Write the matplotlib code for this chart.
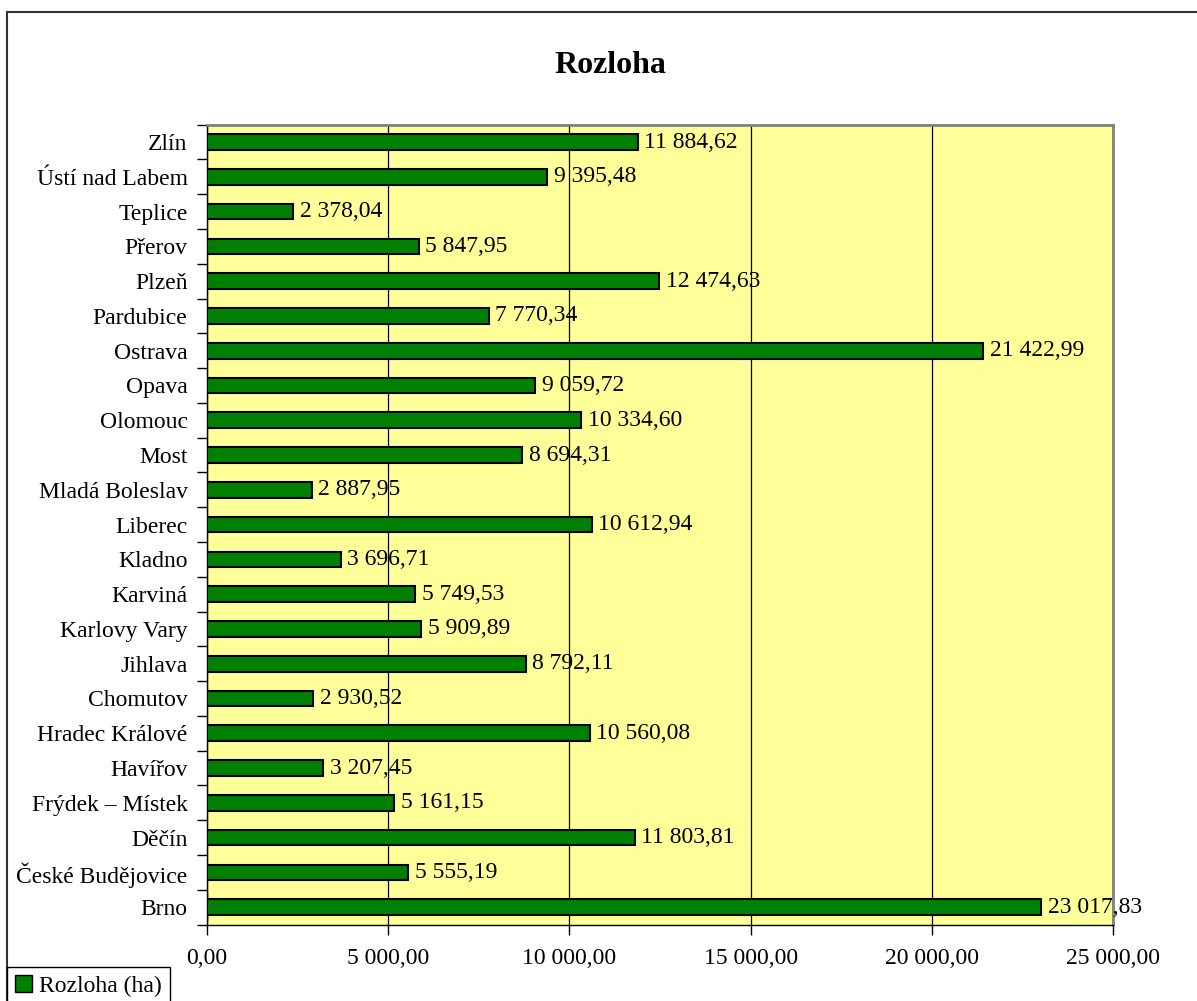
import matplotlib.pyplot as plt
from matplotlib.patches import Rectangle
from matplotlib.ticker import FixedLocator, FuncFormatter
import numpy as np

# data, bottom to top as in the chart
mesta = ['Brno', 'České Budějovice', 'Děčín', 'Frýdek – Místek', 'Havířov',
         'Hradec Králové', 'Chomutov', 'Jihlava', 'Karlovy Vary', 'Karviná',
         'Kladno', 'Liberec', 'Mladá Boleslav', 'Most', 'Olomouc', 'Opava',
         'Ostrava', 'Pardubice', 'Plzeň', 'Přerov', 'Teplice',
         'Ústí nad Labem', 'Zlín']
rozloha = [23017.83, 5555.19, 11803.81, 5161.15, 3207.45, 10560.08,
           2930.52, 8792.11, 5909.89, 5749.53, 3696.71, 10612.94, 2887.95,
           8694.31, 10334.60, 9059.72, 21422.99, 7770.34, 12474.63, 5847.95,
           2378.04, 9395.48, 11884.62]
x_ticks = [0, 5000, 10000, 15000, 20000, 25000]


def cz(v):
    return f'{v:,.2f}'.replace(',', ' ').replace('.', ',')


plt.rcParams.update({'font.family': ['Liberation Serif', 'DejaVu Serif'],
                     'font.size': 17})

fig = plt.figure(figsize=(11.97, 10.01), dpi=100)
ax = fig.add_axes([0.1729, 0.0764, 0.7569, 0.7991])
ax.set_facecolor('#FFFF99')

y = np.arange(len(mesta))
ax.barh(y, rozloha, height=0.45, color='#008000', edgecolor='black',
        linewidth=1.5, zorder=3)
for yi, v in zip(y, rozloha):
    ax.text(v + 180, yi, cz(v), va='center', ha='left', fontsize=17,
            zorder=5, clip_on=False)

ax.set_xlim(0, 25000)
ax.set_ylim(-0.5, len(mesta) - 0.5)
ax.set_xticks(x_ticks)
ax.xaxis.set_major_formatter(FuncFormatter(lambda v, p: cz(v)))
ax.grid(axis='x', color='black', linewidth=0.9, zorder=1)
ax.set_yticks(y)
ax.set_yticklabels(mesta)
ax.yaxis.set_minor_locator(FixedLocator(np.arange(-0.5, len(mesta), 1)))
ax.tick_params(axis='y', which='major', length=0, pad=14)
ax.tick_params(axis='y', which='minor', length=7, width=1, direction='out')
ax.tick_params(axis='x', which='major', length=7, width=1, direction='out',
               pad=10)

for s in ['top', 'right']:
    ax.spines[s].set_color('#808080')
    ax.spines[s].set_linewidth(2)
for s in ['left', 'bottom']:
    ax.spines[s].set_color('black')
    ax.spines[s].set_linewidth(1)

fig.text(0.51, 0.935, 'Rozloha', ha='center', va='center',
         fontsize=23, fontweight='bold')

leg_h = ax.barh([0], [0], color='#008000', edgecolor='black')
leg = fig.legend([leg_h], ['Rozloha (ha)'], loc='lower left',
                 bbox_to_anchor=(0.0058, -0.004), fancybox=False,
                 edgecolor='black', framealpha=1, handlelength=0.7,
                 handleheight=0.7, handletextpad=0.3, borderpad=0.35,
                 borderaxespad=0, fontsize=17)
leg.get_frame().set_linewidth(1)

fig.add_artist(Rectangle((7 / 1197, -0.05), 1.1, 1 - 12 / 1001 + 0.05,
                         transform=fig.transFigure, fill=False,
                         edgecolor='#333333', linewidth=1.5))

fig.savefig('out.png', dpi=100)
